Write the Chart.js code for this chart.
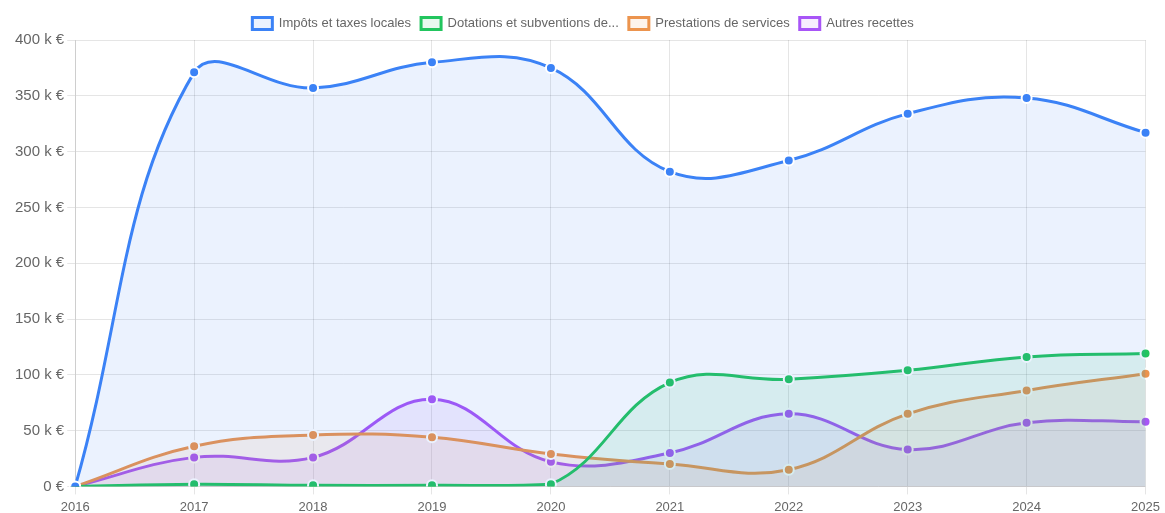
<!DOCTYPE html>
<html lang="fr">
<head>
<meta charset="utf-8">
<script src="https://cdn.jsdelivr.net/npm/chart.js@4"></script>
<style>
  html, body { margin: 0; padding: 0; background: #fff; }
  #wrap { width: 1165px; height: 513px; }
</style>
</head>
<body>
<div id="wrap"><canvas id="recettes"></canvas></div>
<script>
const annees = ["2016","2017","2018","2019","2020","2021","2022","2023","2024","2025"];

// montants en euros
const impots      = [0, 371000, 357000, 380000, 375000, 282000, 292000, 334000, 348000, 317000];
const dotations   = [0, 2000, 1000, 1000, 2000, 93000, 96000, 104000, 116000, 119000];
const prestations = [0, 36000, 46000, 44000, 29000, 20000, 15000, 65000, 86000, 101000];
const autres      = [0, 26000, 26000, 78000, 22000, 30000, 65000, 33000, 57000, 58000];

const libelles = ["Impôts et taxes locales", "Dotations et subventions de...", "Prestations de services", "Autres recettes"];

function serie(label, data, couleur, fond) {
    return {
        label: label,
        data: data,
        borderColor: couleur,
        backgroundColor: fond,
        borderWidth: 3,
        fill: 'origin',
        tension: 0.4,
        pointRadius: 5,
        pointBackgroundColor: couleur,
        pointBorderColor: '#fff',
        pointBorderWidth: 2
    };
}

Chart.defaults.font.family = "'Liberation Sans', Arial, sans-serif";
Chart.defaults.color = '#666';

new Chart(document.getElementById('recettes'), {
    type: 'line',
    data: {
        labels: annees,
        datasets: [
            serie(libelles[0], impots, 'rgb(59, 130, 246)', 'rgba(59, 130, 246, 0.1)'),
            serie(libelles[1], dotations, 'rgb(34, 197, 94)', 'rgba(34, 197, 94, 0.1)'),
            serie(libelles[2], prestations, 'rgb(236, 148, 78)', 'rgba(236, 148, 78, 0.1)'),
            serie(libelles[3], autres, 'rgb(168, 85, 247)', 'rgba(168, 85, 247, 0.1)')
        ]
    },
    options: {
        responsive: true,
        maintainAspectRatio: false,
        animation: false,
        layout: { padding: { left: 12, right: 11, top: 7, bottom: -7 } },
        plugins: {
            legend: {
                position: 'top',
                labels: { boxWidth: 20, boxHeight: 12, font: { size: 13 } }
            },
            tooltip: { enabled: false }
        },
        scales: {
            x: {
                grid: { color: 'rgba(0,0,0,0.1)' },
                ticks: { font: { size: 13 }, padding: 5 }
            },
            y: {
                beginAtZero: true,
                min: 0,
                max: 400000,
                grid: { color: 'rgba(0,0,0,0.1)' },
                ticks: {
                    stepSize: 50000,
                    font: { size: 15 },
                    callback: function(v) {
                        return v === 0 ? '0 €' : (v / 1000) + ' k €';
                    }
                }
            }
        }
    }
});
</script>
</body>
</html>
